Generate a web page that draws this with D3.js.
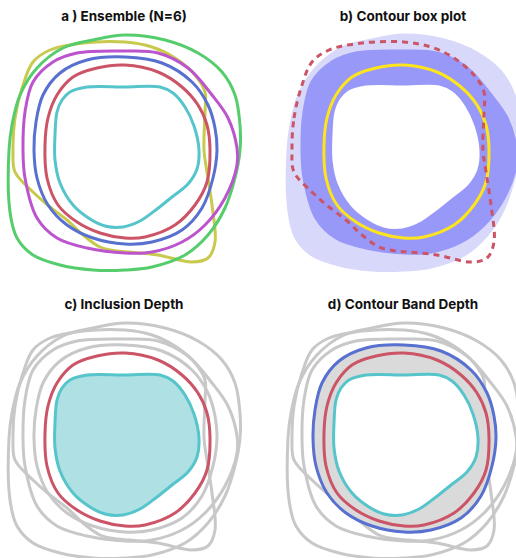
<!DOCTYPE html>
<html><head><meta charset="utf-8">
<script src="https://cdn.jsdelivr.net/npm/d3@7"></script>
<style>html,body{margin:0;padding:0;background:#fff;}svg{display:block;}</style>
</head><body>
<script>
// Panel titles
const titles = ["a ) Ensemble (N=6)", "b) Contour box plot", "c) Inclusion Depth", "d) Contour Band Depth"];

// Ensemble members: closed iso-contours in field coordinates (0..100, y up)
const memberNames = ["cyan", "red", "blue", "magenta", "yellow", "green"];
const cyan = [[22.8,65.2],[24.8,70],[28,73.2],[34.8,75.2],[50,75.2],[64,75.2],[69.2,72.8],[74,67.2],[77.6,59.6],[79.6,50],[78.8,42.4],[75.2,36.4],[68.8,31.2],[62.8,26.4],[56,21.6],[49.2,19.2],[42,19.6],[36,22.4],[29.2,28],[24,36.8],[22,46],[22,56]];
const red = [[18,52],[19.2,62.8],[22.8,72],[29.2,79.2],[38.8,82.8],[50,84],[63.2,81.2],[72.8,75.2],[79.2,68],[82.8,60],[84,50],[82.8,37.2],[78,28],[70,20],[58,15.2],[50,14.8],[40,16.8],[30.8,21.2],[23.2,28],[18.8,38.8]];
const blue = [[13.6,50],[14.4,61.2],[17.2,72],[24,80.8],[34.8,86],[50,87.2],[64.8,84.8],[76.8,77.2],[83.2,68],[86,58.8],[86.8,50],[85.2,38.8],[80.8,26.8],[72.8,18],[60.8,13.2],[50,12.4],[37.2,14.8],[26.8,20],[19.2,28],[14.8,38.8]];
const magenta = [[9.2,50],[10,65.2],[13.2,77.2],[21.2,85.2],[30.8,88.8],[50,89.6],[63.2,88.8],[75.2,82.8],[84.8,72],[91.2,62.8],[94.8,50.8],[94.8,44],[90,30.8],[82,20],[72.8,13.2],[60.8,9.2],[50,8.8],[34.8,10.8],[22.8,14.8],[14.8,22.8],[10,38.8]];
const yellow = [[5.2,50],[6,62.8],[9.2,76],[13.2,85.2],[20,90],[33.2,92.8],[50,93.2],[60.8,91.2],[70,86.8],[78,80],[82,73.2],[82,65.2],[81.6,50],[82.8,41.2],[84.8,28],[86,13.2],[83.2,6.8],[76.8,5.2],[63.2,8],[52,9.2],[46.8,9.6],[40,11.2],[33.2,16],[26.8,22],[20,27.2],[13.2,33.2],[6,41.2]];
const green = [[3.6,50],[4.8,60],[8,72],[14.8,82.8],[25.2,90.8],[37.2,94],[50,96],[66,94],[79.2,88.8],[88.8,81.2],[94,72],[96,60],[96,50],[94,38.8],[90,26.8],[83.2,16],[74,8],[60.8,3.2],[50,2],[37.2,2],[24,4],[13.2,8],[6.8,14.8],[4,25.2]];

const members = {cyan, red, blue, magenta, yellow, green};
const memberColors = {cyan:"#56c5cb", red:"#cc5467", blue:"#5870cf", magenta:"#bc55cd", yellow:"#c9c94e", green:"#56cd6d"};

const W = 516, H = 558;
const svg = d3.select("body").append("svg").attr("width", W).attr("height", H);

const panelOrigins = [[0,0],[279,0],[0,288],[279,288]];

function panel(i) {
  const [ox, oy] = panelOrigins[i];
  const x = d3.scaleLinear().domain([0,100]).range([ox, ox+250]);
  const y = d3.scaleLinear().domain([0,100]).range([oy+275, oy+25]);
  const line = d3.line().x(d => x(d[0])).y(d => y(d[1])).curve(d3.curveCatmullRomClosed.alpha(0.5));
  const g = svg.append("g");
  g.append("text").attr("x", ox+124).attr("y", oy+21).attr("text-anchor","middle")
    .attr("font-family","Inter, 'DejaVu Sans', sans-serif").attr("font-weight",700)
    .attr("font-size",13.5).attr("fill","#111").text(titles[i]);
  return {g, line};
}

// a) ensemble
{
  const {g, line} = panel(0);
  ["yellow","green","magenta","blue","red","cyan"].forEach(k => {
    g.append("path").attr("d", line(members[k])).attr("fill","none")
      .attr("stroke", memberColors[k]).attr("stroke-width",3);
  });
}
// b) contour box plot
{
  const {g, line} = panel(1);
  g.append("path").attr("d", line(green)).attr("fill","#d8d8fb").attr("stroke","#d8d8fb").attr("stroke-width",3);
  g.append("path").attr("d", line(magenta)).attr("fill","#9898f8").attr("stroke","#9898f8").attr("stroke-width",3);
  g.append("path").attr("d", line(cyan)).attr("fill","#fff").attr("stroke","#fff").attr("stroke-width",3);
  g.append("path").attr("d", line(red)).attr("fill","none").attr("stroke","#fde41c").attr("stroke-width",3);
  g.append("path").attr("d", line(yellow)).attr("fill","none").attr("stroke","#cc5467").attr("stroke-width",3).attr("stroke-dasharray","6,5");
}
// c) inclusion depth
{
  const {g, line} = panel(2);
  ["green","yellow","magenta","blue"].forEach(k => {
    g.append("path").attr("d", line(members[k])).attr("fill","none").attr("stroke","#c8c8c8").attr("stroke-width",3);
  });
  g.append("path").attr("d", line(red)).attr("fill","none").attr("stroke",memberColors.red).attr("stroke-width",3);
  g.append("path").attr("d", line(cyan)).attr("fill","#aee0e4").attr("stroke",memberColors.cyan).attr("stroke-width",3);
}
// d) contour band depth
{
  const {g, line} = panel(3);
  ["green","yellow","magenta"].forEach(k => {
    g.append("path").attr("d", line(members[k])).attr("fill","none").attr("stroke","#c8c8c8").attr("stroke-width",3);
  });
  g.append("path").attr("d", line(blue)).attr("fill","#dadada").attr("stroke",memberColors.blue).attr("stroke-width",3);
  g.append("path").attr("d", line(cyan)).attr("fill","#fff").attr("stroke",memberColors.cyan).attr("stroke-width",3);
  g.append("path").attr("d", line(red)).attr("fill","none").attr("stroke",memberColors.red).attr("stroke-width",3);
}
</script>
</body></html>
